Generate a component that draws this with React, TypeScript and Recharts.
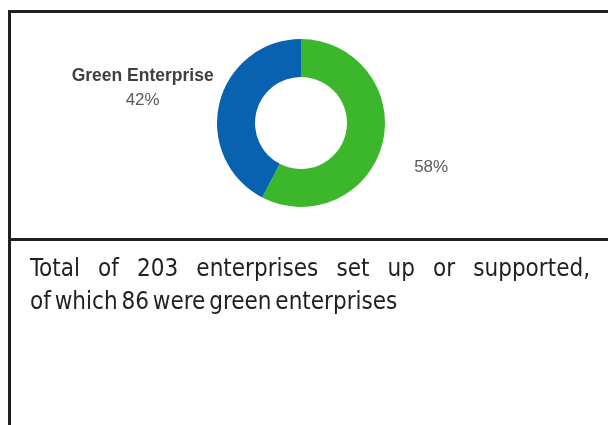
import React from 'react';
import { PieChart, Pie, Cell } from 'recharts';

// enterprises set up or supported
const sliceNames = ['Other Enterprise', 'Green Enterprise'];
const sliceValues = [117, 86];
const sliceColors = ['#3cb72c', '#0862b0'];
const labelNames = ['', 'Green Enterprise'];

const summaryLine1 = 'Total of 203 enterprises set up or supported,';
const summaryLine2 = 'of which 86 were green enterprises';

const data = sliceNames.map((name, i) => ({ name, value: sliceValues[i] }));

const RADIAN = Math.PI / 180;

function renderLabel(props: any) {
  const { cx, cy, midAngle, outerRadius, percent, index } = props;
  const r = outerRadius + (index === 1 ? 79 : 50);
  const x = cx + r * Math.cos(-midAngle * RADIAN);
  const y = cy + r * Math.sin(-midAngle * RADIAN);
  const pct = `${Math.round(percent * 100)}%`;
  if (labelNames[index]) {
    return (
      <text x={x} textAnchor="middle" fontFamily="'Liberation Sans', Arial, sans-serif">
        <tspan x={x} y={y - 3} fontSize={17.5} fontWeight="bold" fill="#404040">
          {labelNames[index]}
        </tspan>
        <tspan x={x} y={y + 21} fontSize={17} fill="#595959">
          {pct}
        </tspan>
      </text>
    );
  }
  return (
    <text
      x={x}
      y={y + 17}
      textAnchor="middle"
      fontSize={17}
      fill="#595959"
      fontFamily="'Liberation Sans', Arial, sans-serif"
    >
      {pct}
    </text>
  );
}

export default function App() {
  const line = '3px solid #231f20';
  return (
    <div style={{ position: 'fixed', left: 8, top: 8, width: 600, height: 417, overflow: 'hidden' }}>
      <div
        style={{
          position: 'absolute',
          left: 0,
          top: 2,
          width: 660,
          height: 500,
          borderLeft: line,
          borderTop: line,
        }}
      >
        <div style={{ height: 225, borderBottom: line }}>
          <PieChart width={597} height={225}>
            <Pie
              data={data}
              dataKey="value"
              nameKey="name"
              cx={285}
              cy={105}
              innerRadius={46}
              outerRadius={84}
              startAngle={90}
              endAngle={-270}
              stroke="none"
              label={renderLabel}
              labelLine={false}
              isAnimationActive={false}
            >
              {data.map((d, i) => (
                <Cell key={d.name} fill={sliceColors[i]} />
              ))}
            </Pie>
          </PieChart>
        </div>
        <div
          style={{
            paddingTop: 11,
            paddingLeft: 19,
            width: 560,
            fontFamily: "'Liberation Sans Narrow', 'DejaVu Sans Condensed', sans-serif",
            fontSize: 24,
            lineHeight: '33px',
            color: '#231f20',
          }}
        >
          <div style={{ textAlign: 'justify', textAlignLast: 'justify' }}>{summaryLine1}</div>
          <div style={{ wordSpacing: -3 }}>{summaryLine2}</div>
        </div>
      </div>
    </div>
  );
}
